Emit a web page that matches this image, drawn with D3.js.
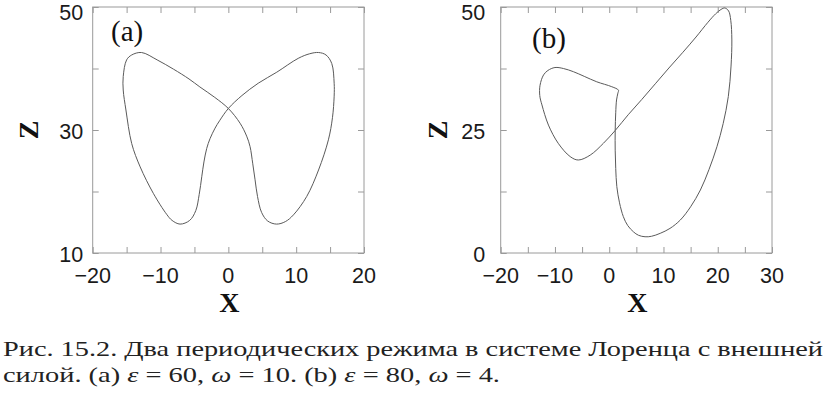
<!DOCTYPE html>
<html>
<head>
<meta charset="utf-8">
<script src="https://cdn.jsdelivr.net/npm/d3@7"></script>
<style>
  html, body { margin: 0; padding: 0; background: #fff; }
  svg { display: block; }
</style>
</head>
<body>
<svg id="chart" width="826" height="399"></svg>
<script>
// ---------- data ----------
// panel (a): closed orbit, points [x, z]
const curveA = [
  [-12.8, 42.6], [-10.5, 41.4], [-8.1, 39.9], [-5.8, 38.3], [-4.2, 37.0], [-2.0, 35.3], [0, 33.5],
  [1.73, 31.1], [2.7, 29.0], [3.2, 27.3], [3.6, 24.5], [3.94, 21.9], [4.3, 19.2], [4.9, 16.6],
  [5.8, 15.2], [7.1, 14.7], [8.4, 15.1], [9.6, 16.2], [11.56, 19.2], [13.3, 23.5],
  [14.75, 28.4], [15.35, 32.0], [15.6, 35.5], [15.6, 37.6], [15.25, 40.8], [14.4, 42.2],
  [13.3, 42.6], [12.0, 42.4], [10.3, 41.65], [7.14, 39.4], [4.4, 37.6], [2.0, 35.6], [0, 33.5],
  [-1.3, 31.5], [-1.96, 30.3], [-2.7, 28.6], [-3.19, 27.0], [-3.6, 24.8], [-3.92, 22.4],
  [-4.3, 19.5], [-4.8, 16.9], [-5.7, 15.3], [-7.12, 14.7], [-8.3, 15.3], [-9.1, 16.3],
  [-11.06, 19.7], [-13.0, 24.0], [-14.25, 27.8], [-15.1, 33.25], [-15.5, 36.5], [-15.5, 38.7],
  [-15.0, 41.4], [-14.25, 42.2]
];
// panel (b): closed orbit, points [x, z]
const curveB = [
  [1.1, 24.9], [3.5, 28.1], [6.0, 31.2], [8.5, 34.4], [11.0, 37.6], [13.5, 40.7], [16.0, 43.9],
  [18.2, 46.9], [19.6, 48.6], [20.6, 49.5], [21.3, 49.8], [22.0, 49.2], [22.4, 47.3],
  [22.6, 43.3], [22.45, 38.0], [21.95, 31.8], [21.0, 26.3], [19.85, 21.6], [18.4, 17.0],
  [16.8, 12.8], [15.0, 9.4], [13.1, 6.7], [11.2, 5.0], [9.4, 4.0], [7.8, 3.4], [6.6, 3.3],
  [5.4, 3.6], [4.47, 4.3], [3.4, 5.6], [2.6, 7.4], [1.9, 10.2], [1.4, 13.5], [1.2, 17.2],
  [1.1, 20.9], [1.1, 24.9], [1.2, 28.5], [1.35, 31.1], [1.6, 32.5], [1.7, 33.1], [0.47, 33.8],
  [-2.3, 34.8], [-4.6, 35.9], [-6.6, 36.85], [-8.45, 37.5], [-10.0, 37.7], [-11.3, 37.1],
  [-12.1, 36.2], [-12.75, 34.1], [-12.8, 32.0], [-12.4, 30.1], [-11.2, 26.0], [-9.4, 22.3],
  [-7.2, 19.6], [-5.7, 18.9], [-3.5, 19.9], [-1.07, 22.3]
];

// axes
const xDomainA = [-20, 20], zDomainA = [10, 50];
const xDomainB = [-20, 30], zDomainB = [0, 50];
const xTicksA = [-20, -15, -10, -5, 0, 5, 10, 15, 20];
const xLabelsA = [-20, -10, 0, 10, 20];
const zTicksA = [10, 20, 30, 40, 50];
const zLabelsA = [10, 30, 50];
const xTicksB = [-20, -15, -10, -5, 0, 5, 10, 15, 20, 25, 30];
const xLabelsB = [-20, -10, 0, 10, 20, 30];
const zTicksB = [0, 12.5, 25, 37.5, 50];
const zLabelsB = [0, 25, 50];
const panelNames = ["(a)", "(b)"];
// caption: each line is a list of [text, italic?] runs
const captionLines = [
  [["Рис. 15.2. Два периодических режима в системе Лоренца с внешней", false]],
  [["силой. (a) ", false], ["ε", true], [" = 60, ", false], ["ω", true], [" = 10. (b) ", false],
   ["ε", true], [" = 80, ", false], ["ω", true], [" = 4.", false]]
];

// ---------- drawing ----------
const svg = d3.select("#chart");
const fmt = v => (v < 0 ? "\u2212" + Math.abs(v) : String(v));

function panel(cfg) {
  const x = d3.scaleLinear().domain(cfg.xDomain).range([cfg.left, cfg.right]);
  const y = d3.scaleLinear().domain(cfg.zDomain).range([cfg.bottom, cfg.top]);
  const g = svg.append("g");
  const tl = 6;
  const frameColor = "#9a9a9a";

  // frame
  g.append("rect")
    .attr("x", cfg.left).attr("y", cfg.top)
    .attr("width", cfg.right - cfg.left).attr("height", cfg.bottom - cfg.top)
    .attr("fill", "none").attr("stroke", frameColor).attr("stroke-width", 1);

  // inward ticks on all four sides
  const bottomAx = d3.axisBottom(x).tickValues(cfg.xTicks).tickSize(-tl).tickFormat("");
  const topAx = d3.axisTop(x).tickValues(cfg.xTicks).tickSize(-tl).tickFormat("");
  const leftAx = d3.axisLeft(y).tickValues(cfg.zTicks).tickSize(-tl).tickFormat("");
  const rightAx = d3.axisRight(y).tickValues(cfg.zTicks).tickSize(-tl).tickFormat("");
  [[bottomAx, `translate(0,${cfg.bottom})`], [topAx, `translate(0,${cfg.top})`],
   [leftAx, `translate(${cfg.left},0)`], [rightAx, `translate(${cfg.right},0)`]].forEach(([ax, tr]) => {
    const a = g.append("g").attr("transform", tr).call(ax);
    a.select(".domain").remove();
    a.selectAll("line").attr("stroke", frameColor);
  });

  // tick labels
  g.selectAll(".xl").data(cfg.xLabels).enter().append("text")
    .attr("x", d => x(d)).attr("y", cfg.bottom + 29.5)
    .attr("text-anchor", "middle")
    .attr("font-family", "'Liberation Sans', Arial, sans-serif")
    .attr("font-size", 21.5).attr("fill", "#1a1a1a")
    .text(fmt);
  g.selectAll(".yl").data(cfg.zLabels).enter().append("text")
    .attr("x", cfg.left - cfg.yLabelGap).attr("y", d => Math.max(y(d) + 8.5, 19.5))
    .attr("text-anchor", "end")
    .attr("font-family", "'Liberation Sans', Arial, sans-serif")
    .attr("font-size", 21.5).attr("fill", "#1a1a1a")
    .text(fmt);

  // axis titles
  g.append("text")
    .attr("x", (cfg.left + cfg.right) / 2 + 1).attr("y", 312)
    .attr("text-anchor", "middle")
    .attr("font-family", "'Liberation Serif', 'Times New Roman', serif")
    .attr("font-weight", "bold").attr("font-size", 28).attr("fill", "#111")
    .text("X");
  g.append("text")
    .attr("transform", `translate(${cfg.zTitleX},${(cfg.top + cfg.bottom) / 2}) rotate(-90)`)
    .attr("text-anchor", "middle")
    .attr("font-family", "'Liberation Serif', 'Times New Roman', serif")
    .attr("font-weight", "bold").attr("font-size", 28).attr("fill", "#111")
    .text("Z");

  // panel label
  g.append("text")
    .attr("x", cfg.nameX).attr("y", cfg.nameY)
    .attr("font-family", "'Liberation Serif', 'Times New Roman', serif")
    .attr("font-size", 29).attr("fill", "#111")
    .text(cfg.name);

  // curve
  const line = d3.line()
    .x(d => x(d[0])).y(d => y(d[1]))
    .curve(d3.curveCatmullRomClosed.alpha(0.5));
  g.append("path")
    .datum(cfg.curve)
    .attr("d", line)
    .attr("fill", "none")
    .attr("stroke", "#5a5a5a")
    .attr("stroke-width", 1);
}

panel({
  xDomain: xDomainA, zDomain: zDomainA,
  left: 92.7, right: 364, top: 7, bottom: 253,
  xTicks: xTicksA, zTicks: zTicksA, xLabels: xLabelsA, zLabels: zLabelsA,
  yLabelGap: 9.5, zTitleX: 38, name: panelNames[0], nameX: 111, nameY: 41,
  curve: curveA
});
panel({
  xDomain: xDomainB, zDomain: zDomainB,
  left: 500.7, right: 772, top: 7, bottom: 253,
  xTicks: xTicksB, zTicks: zTicksB, xLabels: xLabelsB, zLabels: zLabelsB,
  yLabelGap: 15.5, zTitleX: 447, name: panelNames[1], nameX: 532, nameY: 48,
  curve: curveB
});

// caption
const capX = [3, 3], capY = [355.5, 381.5], capLen = [820, 497];
captionLines.forEach((runs, i) => {
  const t = svg.append("text")
    .attr("x", capX[i]).attr("y", capY[i])
    .attr("font-family", "'Liberation Serif', 'Times New Roman', serif")
    .attr("font-size", 22).attr("fill", "#222")
    .attr("textLength", capLen[i]).attr("lengthAdjust", "spacingAndGlyphs");
  runs.forEach(([s, it]) => {
    t.append("tspan").attr("font-style", it ? "italic" : "normal").text(s);
  });
});
</script>
</body>
</html>
